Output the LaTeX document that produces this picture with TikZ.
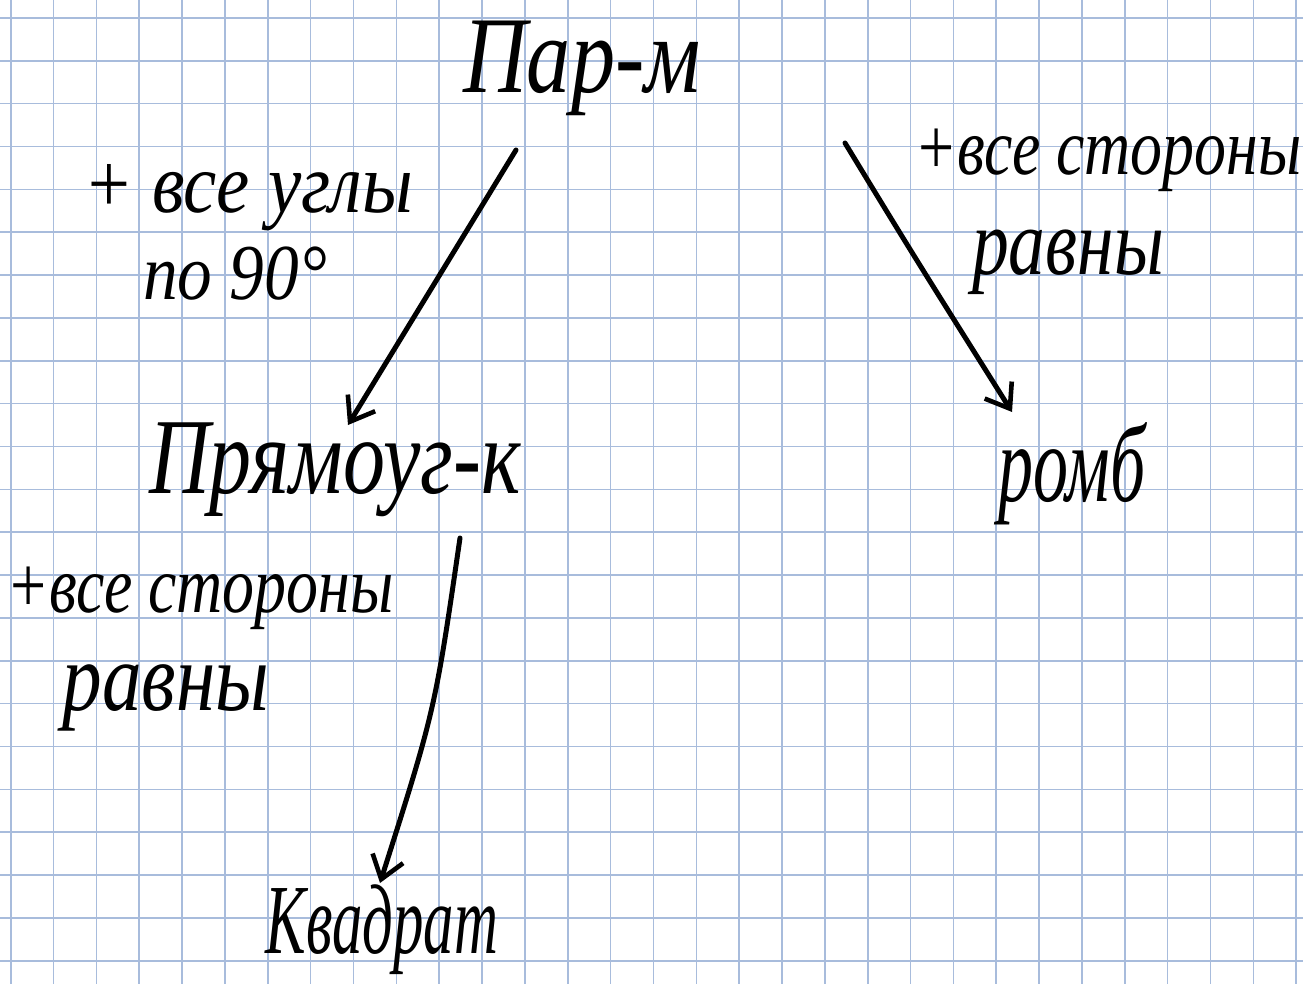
\documentclass[tikz,border=0pt]{standalone}
\usepackage{fontspec}
\setmainfont{Liberation Serif}
\usetikzlibrary{arrows.meta,calc}
\definecolor{gridblue}{RGB}{168,188,220}
\tikzset{
  hand/.style={text=black, inner sep=0pt, anchor=center},
  note/.style={text=black, inner sep=0pt, anchor=center},
  arr/.style={line width=5pt, line cap=round, line join=round,
    -{Straight Barb[length=22pt,width=32pt,line width=4.6pt]}},
}
% stretched italic lettering: \stretched{size}{x-factor}{y-factor}{text}
\newcommand\stretched[4]{\scalebox{#2}[#3]{\fontsize{#1}{#1}\selectfont\itshape #4}}
\begin{document}
\begin{tikzpicture}[x=1pt,y=-1pt]
  \useasboundingbox (0,0) rectangle (1303,984);
  \fill[white] (0,0) rectangle (1303,984);
  % squared paper
  \foreach \i in {0,...,30} {
    \draw[gridblue, line width=1.6pt] ({10.7+42.85*\i},0) -- ({10.7+42.85*\i},984);
  }
  \foreach \j in {0,...,22} {
    \draw[gridblue, line width=1.6pt] (0,{18+42.85*\j}) -- (1303,{18+42.85*\j});
  }
  % headings
  \node[hand] (parm) at (582,68) {\stretched{84}{1.05}{1.3}{Пар-м}};
  \node[hand] (rect) at (335,470) {\stretched{80}{1.05}{1.35}{Прямоуг-к}};
  \node[hand] (romb) at (1072,474) {\stretched{76}{0.92}{1.45}{ромб}};
  \node[hand] (kvad) at (382,930) {\stretched{64}{0.95}{1.55}{Квадрат}};
  % side notes
  \node[note] (n1a) at (248,198) {\stretched{68}{1.1}{1.25}{+ все углы}};
  \node[note] (n1b) at (235,274) {\stretched{66}{1.05}{1.2}{по 90°}};
  \node[note] (n2a) at (1108,160) {\stretched{62}{1.03}{1.3}{+все стороны}};
  \node[note] (n2b) at (1068,262) {\stretched{70}{1.05}{1.35}{равны}};
  \node[note] (n3a) at (200,598) {\stretched{62}{1.03}{1.3}{+все стороны}};
  \node[note] (n3b) at (166,698) {\stretched{72}{1.1}{1.35}{равны}};
  % arrows
  \draw[arr] ($(parm.center)+(-66,82)$) -- ($(rect.center)+(13,-45)$);
  \draw[arr] ($(parm.center)+(263,75)$) .. controls ($(parm.center)+(330,185)$) .. ($(romb.center)+(-60,-62)$);
  \draw[arr] ($(rect.center)+(125,68)$) .. controls ($(rect.center)+(100,240)$) .. ($(kvad.center)+(-2,-47)$);
\end{tikzpicture}
\end{document}
